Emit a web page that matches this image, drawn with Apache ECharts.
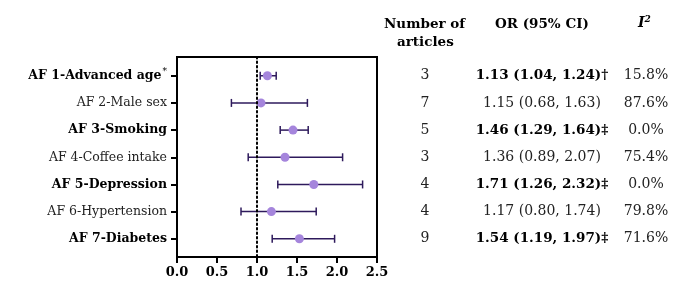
<!DOCTYPE html>
<html>
<head>
<meta charset="utf-8">
<script src="https://cdn.jsdelivr.net/npm/echarts@6/dist/echarts.min.js"></script>
<style>
  html, body { margin: 0; padding: 0; background: #fff; }
  #chart { width: 679px; height: 298px; }
</style>
</head>
<body>
<div id="chart"></div>
<script>
// 风险因素
const labels = ['AF 1-Advanced age', 'AF 2-Male sex', 'AF 3-Smoking', 'AF 4-Coffee intake',
  'AF 5-Depression', 'AF 6-Hypertension', 'AF 7-Diabetes'];
const labelMark = ['*', '', '', '', '', '', ''];
const bold = [true, false, true, false, true, false, true];
const rows = [1, 2, 3, 4, 5, 6, 7];

// 图中的点和置信区间
const orPoint = [1.13, 1.05, 1.45, 1.35, 1.71, 1.18, 1.53];
const ciLow = [1.04, 0.68, 1.29, 0.89, 1.26, 0.80, 1.19];
const ciHigh = [1.24, 1.63, 1.64, 2.07, 2.32, 1.74, 1.97];

// 右侧表格
const articles = [3, 7, 5, 3, 4, 4, 9];
const orText = ['1.13 (1.04, 1.24)†', '1.15 (0.68, 1.63)', '1.46 (1.29, 1.64)‡', '1.36 (0.89, 2.07)',
  '1.71 (1.26, 2.32)‡', '1.17 (0.80, 1.74)', '1.54 (1.19, 1.97)‡'];
const i2Text = ['15.8%', '87.6%', '0.0%', '75.4%', '0.0%', '79.8%', '71.6%'];

const FONT = 'DejaVu Serif';
const chart = echarts.init(document.getElementById('chart'));

const rowIdx = v => rows.indexOf(Math.round(v));

// 右侧的列用额外的 y 轴来对齐每一行
const tableAxis = (offsetMargin, fmt, useBold) => ({
  type: 'value',
  inverse: true,
  min: 0.31,
  max: 7.67,
  position: 'right',
  axisLine: { show: false },
  axisTick: { show: false },
  splitLine: { show: false },
  axisLabel: {
    customValues: rows,
    margin: offsetMargin,
    align: 'center',
    formatter: v => {
      const i = rowIdx(v);
      return useBold && bold[i] ? '{b|' + fmt(i) + '}' : '{n|' + fmt(i) + '}';
    },
    rich: {
      b: { fontFamily: FONT, fontWeight: 'bold', fontSize: 13.5, color: '#000' },
      n: { fontFamily: FONT, fontSize: 14, color: '#222' }
    }
  }
});

const option = {
  animation: false,
  grid: {
    left: 177, right: 302, top: 57, bottom: 41,
    show: true, borderColor: '#000', borderWidth: 2
  },
  xAxis: {
    type: 'value',
    min: 0, max: 2.5, interval: 0.5,
    axisLine: { lineStyle: { color: '#000', width: 2 } },
    axisTick: { show: true, length: 6, lineStyle: { color: '#000', width: 2 } },
    splitLine: { show: false },
    axisLabel: {
      color: '#000', fontFamily: FONT, fontWeight: 'bold', fontSize: 13, margin: 9,
      formatter: v => v.toFixed(1)
    }
  },
  yAxis: [
    {
      type: 'value',
      inverse: true,
      min: 0.31,
      max: 7.67,
      axisLine: { show: true, lineStyle: { color: '#000', width: 2 } },
      axisTick: { show: true, customValues: rows, length: 6, lineStyle: { color: '#000', width: 2 } },
      splitLine: { show: false },
      axisLabel: {
        customValues: rows,
        margin: 10,
        formatter: v => {
          const i = rowIdx(v);
          const s = bold[i] ? '{b|' + labels[i] + '}' : '{n|' + labels[i] + '}';
          return labelMark[i] ? s + '{sup|' + labelMark[i] + '}' : s;
        },
        rich: {
          b: { fontFamily: FONT, fontWeight: 'bold', fontSize: 12.5, color: '#000' },
          n: { fontFamily: FONT, fontSize: 12.5, color: '#222' },
          sup: { fontFamily: FONT, fontSize: 9, color: '#000', verticalAlign: 'top', padding: [0, 0, 8, 1] }
        }
      }
    },
    tableAxis(48, i => String(articles[i]), false),
    tableAxis(165, i => orText[i], true),
    tableAxis(269, i => i2Text[i], false)
  ],
  series: [
    {
      // 误差线
      type: 'custom',
      yAxisIndex: 0,
      data: rows.map((r, i) => [ciLow[i], ciHigh[i], r]),
      renderItem: (params, api) => {
        const a = api.coord([api.value(0), api.value(2)]);
        const b = api.coord([api.value(1), api.value(2)]);
        const h = 4;
        const style = { stroke: '#2e1a5c', lineWidth: 1.5 };
        return {
          type: 'group',
          children: [
            { type: 'line', shape: { x1: a[0], y1: a[1], x2: b[0], y2: b[1] }, style },
            { type: 'line', shape: { x1: a[0], y1: a[1] - h, x2: a[0], y2: a[1] + h }, style },
            { type: 'line', shape: { x1: b[0], y1: b[1] - h, x2: b[0], y2: b[1] + h }, style }
          ]
        };
      },
      markLine: {
        silent: true,
        symbol: 'none',
        label: { show: false },
        lineStyle: { color: '#000', width: 2, type: [1.5, 3], cap: 'round' },
        data: [{ xAxis: 1 }]
      },
      z: 2
    },
    {
      type: 'scatter',
      yAxisIndex: 0,
      data: rows.map((r, i) => [orPoint[i], r]),
      symbol: 'circle',
      symbolSize: 9,
      itemStyle: { color: '#a585dc', opacity: 1 },
      z: 3
    }
  ],
  graphic: [
    {
      type: 'text', left: 384, top: 17,
      style: { text: 'Number of', font: 'bold 13.5px "DejaVu Serif"', fill: '#000' }
    },
    {
      type: 'text', left: 397, top: 35,
      style: { text: 'articles', font: 'bold 13.5px "DejaVu Serif"', fill: '#000' }
    },
    {
      type: 'text', left: 495, top: 17,
      style: { text: 'OR (95% CI)', font: 'bold 13.5px "DejaVu Serif"', fill: '#000' }
    },
    {
      type: 'text', left: 638, top: 15,
      style: {
        text: '{i|I}{s|2}',
        rich: {
          i: { fontFamily: FONT, fontWeight: 'bold', fontStyle: 'italic', fontSize: 14, fill: '#000' },
          s: { fontFamily: FONT, fontWeight: 'bold', fontStyle: 'italic', fontSize: 9, fill: '#000', verticalAlign: 'top', padding: [0, 0, 8, 0] }
        }
      }
    }
  ]
};

chart.setOption(option);
</script>
</body>
</html>
